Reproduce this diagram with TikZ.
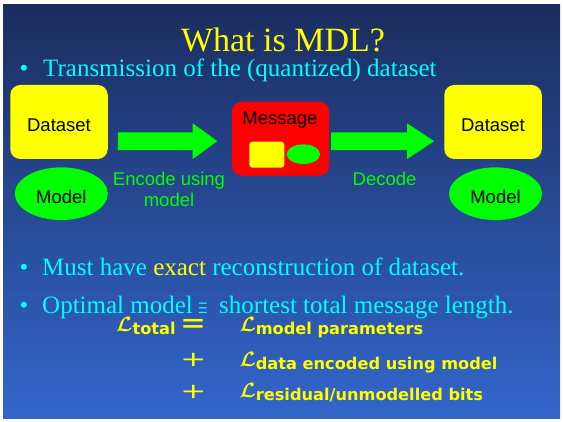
\documentclass[tikz,border=0pt]{standalone}
\usepackage{fontspec}
\setmainfont{Liberation Serif}
\newfontfamily\arialfont{Liberation Sans}
\newfontfamily\symfont{DejaVu Sans}
\usetikzlibrary{shapes.geometric,calc}

\definecolor{bgtop}{RGB}{27,45,94}
\definecolor{bgbot}{RGB}{51,102,204}
\definecolor{slideyellow}{RGB}{255,255,0}
\definecolor{slidecyan}{RGB}{0,255,255}
\definecolor{slidegreen}{RGB}{0,255,0}
\definecolor{slidered}{RGB}{255,0,0}

% fat block arrow from #1 to #2 with head length #3
\newcommand\fatarrow[3]{%
  \fill[slidegreen] ($(#1)+(0,-8.85)$) -- ($(#2)+(-#3,-8.85)$) -- ($(#2)+(-#3,-17.9)$)
    -- (#2) -- ($(#2)+(-#3,17.9)$) -- ($(#2)+(-#3,8.85)$) -- ($(#1)+(0,8.85)$) -- cycle;}

% one term of the length formula: script L with a bold sans subscript
\newcommand\lenterm[1]{{\fontsize{22}{22}\selectfont\boldmath$\mathcal{L}$}\raisebox{-2.6pt}{\symfont\bfseries\fontsize{16.2}{18}\selectfont #1}}

\begin{document}
\begin{tikzpicture}[x=1pt,y=-1pt,
  txt/.style={inner sep=0pt,anchor=base},
  bodytxt/.style={txt,anchor=base west,text=slidecyan,font=\fontsize{25}{30}\selectfont},
  bulletdot/.style={txt,anchor=base west,text=slidecyan,font=\fontsize{25}{30}\selectfont},
  sanslabel/.style={font=\arialfont\fontsize{18.5}{22}\selectfont},
  databox/.style={sanslabel,rectangle,rounded corners=10pt,fill=slideyellow,
    minimum width=97.5pt,minimum height=74pt,inner sep=2pt,text depth=0pt,text height=19.4pt},
  modelell/.style={sanslabel,ellipse,fill=slidegreen,minimum width=93pt,
    minimum height=52.7pt,inner sep=2pt,text depth=0pt,text height=20.6pt},
  greenlabel/.style={txt,text=slidegreen,font=\arialfont\fontsize{18.5}{22}\selectfont},
  formula/.style={txt,anchor=base west,text=slideyellow},
  opsign/.style={inner sep=0pt,text=slideyellow,font=\symfont\fontsize{31}{31}\selectfont}]

% page and slide background
\fill[white] (0,0) rectangle (563,422);
\useasboundingbox (0,0) rectangle (563,422);
\shade[top color=bgtop,bottom color=bgbot] (3,5) rectangle (560,419);

% title and first bullet
\node[txt,text=slideyellow,font=\fontsize{34}{40}\selectfont] (title) at (283,52) {What is MDL?};
\node[bulletdot] (b1) at (19.5,77) {•};
\node[bodytxt] (t1) at (43,77) {Transmission of the (quantized) dataset};

% sender side
\node[databox] (lds) at (59,122) {Dataset};
\node[modelell] (lmodel) at (61.3,193.7) {Model};

% message
\node[rectangle,rounded corners=10pt,fill=slidered,minimum width=97.3pt,minimum height=74pt] (msg) at (280.5,138.7) {};
\node[txt,sanslabel] (msgname) at (280,124.3) {Message};
\node[rectangle,rounded corners=3pt,fill=slideyellow,minimum width=35pt,minimum height=26pt,inner sep=0pt] (msgdata) at (266.8,154.7) {};
\node[ellipse,fill=slidegreen,minimum width=33.3pt,minimum height=19.6pt,inner sep=0pt] (msgmodel) at (303.3,154.2) {};

% receiver side
\node[databox] (rds) at (493,122) {Dataset};
\node[modelell] (rmodel) at (495.5,193.7) {Model};

% arrows
\coordinate (enc0) at ($(lds.east)+(10,19.2)$);
\coordinate (enc1) at ($(msg.west)+(-14.4,2.5)$);
\coordinate (dec0) at ($(msg.east)+(1.8,2.5)$);
\coordinate (dec1) at ($(rds.west)+(-10,19.2)$);
\fatarrow{enc0}{enc1}{24.6}
\fatarrow{dec0}{dec1}{27}

\node[greenlabel] (enclab1) at (169,186) {Encode using};
\node[greenlabel] (enclab2) at (169,206.7) {model};
\node[greenlabel] (declab) at (384.6,186) {Decode};

% lower bullets
\node[bulletdot] (b2) at (19.5,276) {•};
\node[bodytxt] (t2) at (42,276) {Must have \textcolor{slideyellow}{exact} reconstruction of dataset.};
\node[bulletdot] (b3) at (19.5,313.6) {•};
\node[bodytxt] (t3a) at (42,313.6) {Optimal model};
\node[txt,text=slidecyan] (t3eq) at (203,313.6) {\scalebox{0.5}[1]{\fontsize{22}{22}\selectfont\boldmath$\equiv$}};
\node[bodytxt] (t3b) at (219,313.6) {shortest total message length.};

% total message length
\node[formula] (ltotal) at (116,331.5) {\lenterm{total}};
\node[opsign] (eqsign) at (193.3,326) {=};
\node[formula] (lmodelp) at (239.3,331.5) {\lenterm{model parameters}};
\node[opsign] (plus1) at (193.3,360) {\scalebox{1}[0.68]{+}};
\node[formula] (ldata) at (239.3,366.8) {\lenterm{data encoded using model}};
\node[opsign] (plus2) at (193.3,391.7) {\scalebox{1}[0.68]{+}};
\node[formula] (lresid) at (239.3,397.5) {\lenterm{residual/unmodelled bits}};
\end{tikzpicture}
\end{document}
